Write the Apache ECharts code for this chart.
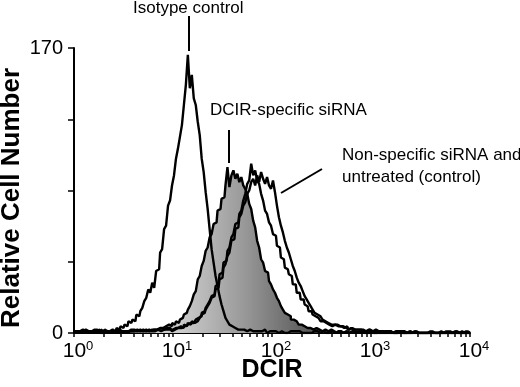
<!DOCTYPE html>
<html><head><meta charset="utf-8">
<script src="https://cdn.jsdelivr.net/npm/echarts@6/dist/echarts.min.js"></script>
<style>html,body{margin:0;padding:0;background:#fff}#c{width:520px;height:387px}</style>
</head><body><div id="c"></div>
<script>
// Histogram counts, one value per channel (50 channels per decade, 10^0 .. 10^4)
const isotype = [
 1,0,1,1,0,2,1,0,1,1,  2,1,1,0,2,1,1,2,1,2,
 2,1,3,2,4,3,5,4,7,6,  8,7,11,10,13,15,19,21,26,24,
 30,27,37,38,48,50,62,64,76,79,  88,94,104,110,117,124,136,148,166,146,
 154,140,136,126,118,104,96,84,74,62,  50,42,34,28,22,17,13,9,7,5,
 4,3,3,2,2,1,2,1,1,2,  1,0,1,1,0,1,2,1,0,1,
 1,0,1,0,1,1,0,1,0,1,  0,1,1,0,1,0,1,0,0,1,
 0,1,0,1,0,0,1,0,1,0,  1,0,0,1,0,1,0,0,1,0,
 0,1,0,0,1,0,0,1,0,0,  1,0,0,0,1,0,0,1,0,0,
 0,1,0,0,0,1,0,0,0,1,  0,0,1,0,0,0,1,0,0,0,
 1,0,0,0,0,1,0,0,0,1,  0,0,0,1,0,0,0,0,1,0,
 0
];
const dcirSpecific = [
 0,1,0,0,1,0,1,0,0,1,  0,1,1,0,1,0,1,1,0,1,
 1,0,1,1,0,1,1,0,1,1,  1,1,0,1,1,2,1,1,2,1,
 2,1,2,3,2,3,4,3,5,4,  6,5,7,6,8,9,11,12,14,16,
 19,23,25,32,34,40,43,49,51,57,  59,65,66,73,74,80,81,88,99,87,
 94,97,92,95,90,93,88,86,83,77,  74,67,63,55,51,44,42,37,36,31,
 29,26,24,21,19,16,14,12,11,10,  8,8,7,6,5,5,4,4,3,3,
 3,2,3,2,2,1,2,2,1,1,  2,1,1,0,1,1,0,1,1,0,
 1,0,1,0,0,1,0,1,0,0,  1,0,0,1,0,0,1,0,0,0,
 1,0,0,0,1,0,0,0,1,0,  0,0,1,0,0,0,0,1,0,0,
 0,1,0,0,0,0,1,0,0,0,  1,0,0,0,0,0,1,0,0,0,
 0
];
const nonSpecific = [
 1,1,0,1,2,1,0,1,1,0,  1,2,1,1,0,1,2,1,1,1,
 0,1,1,2,1,1,0,1,2,1,  1,1,2,1,1,2,1,1,2,1,
 2,1,2,2,1,2,3,2,2,3,  2,3,2,3,3,4,4,5,5,6,
 6,7,8,9,10,12,13,15,17,19,  22,23,28,29,35,36,42,43,49,51,
 57,59,65,66,71,73,79,83,89,91,  101,94,97,91,89,83,79,73,71,66,
 64,59,58,52,51,45,44,39,38,35,  34,29,29,24,24,20,20,17,16,13,
 13,11,10,9,8,7,7,6,5,5,  4,4,5,4,3,4,3,3,4,2,
 3,2,3,2,2,3,2,1,2,2,  1,2,1,1,2,1,1,1,0,1,
 1,0,1,0,1,1,0,1,0,0,  1,0,0,1,0,1,0,0,1,0,
 0,1,0,0,1,0,0,0,1,0,  0,0,1,0,0,0,1,0,0,0,
 0
];
const untreated = [
 0,1,1,0,1,1,2,1,0,1,  1,1,0,2,1,1,1,0,1,2,
 1,1,2,0,1,2,1,1,1,2,  2,1,1,2,1,1,2,2,1,2,
 1,2,2,1,3,2,2,3,3,2,  1,2,3,2,4,3,5,4,6,5,
 7,6,7,8,9,11,12,14,16,18,  21,22,26,27,32,33,39,41,46,48,
 55,56,62,63,69,71,76,78,83,85,  90,92,88,94,90,96,92,89,93,88,
 86,91,84,76,69,64,60,55,51,48,  44,40,37,33,30,28,25,22,20,18,
 16,14,12,11,10,9,8,7,6,6,  5,5,4,5,4,3,4,3,3,2,
 3,3,2,2,3,2,1,2,1,2,  1,1,2,1,1,0,1,1,1,0,
 1,0,1,0,0,1,0,0,1,0,  0,1,0,0,1,0,0,1,0,0,
 1,0,0,0,0,1,0,0,0,1,  0,0,0,1,0,0,0,0,0,1,
 0
];
const channelsPerDecade = 50;

const xTickValues = [1, 10, 100, 1000, 10000];
const xTickExponents = ['0', '1', '2', '3', '4'];
const xMinorTickValues = [2,3,4,5,6,7,8,9, 20,30,40,50,60,70,80,90,
  200,300,400,500,600,700,800,900, 2000,3000,4000,5000,6000,7000,8000,9000];
const yMax = 170;
const yTickStep = 42.5;
const yLabelValues = [0, 170];

const xTitle = 'DCIR';
const yTitle = 'Relative Cell Number';
const labelIsotype = 'Isotype control';
const labelDcir = 'DCIR-specific siRNA';
const labelControl = 'Non-specific siRNA and\nuntreated (control)';

function toPairs(arr) {
  return arr.map((v, i) => [Math.pow(10, i / channelsPerDecade), v]);
}

const FONT = '"Liberation Sans", Arial, Helvetica, sans-serif';
const chart = echarts.init(document.getElementById('c'), null, {renderer: 'canvas'});

const lineCommon = {
  type: 'line', showSymbol: false, symbol: 'none', step: 'middle',
  lineStyle: {color: '#000', width: 2.4}, animation: false, silent: true
};

chart.setOption({
  backgroundColor: '#fff',
  animation: false,
  grid: {left: 74, right: 50, top: 48, bottom: 54, containLabel: false, outerBoundsMode: 'none'},
  xAxis: {
    type: 'log', logBase: 10, min: 1, max: 10000,
    axisLine: {show: true, lineStyle: {color: '#000', width: 2}},
    axisTick: {show: true, inside: false, length: 4, lineStyle: {color: '#000', width: 1.5},
      customValues: xTickValues.concat(xMinorTickValues)},
    minorTick: {show: false},
    splitLine: {show: false},
    axisLabel: {
      customValues: xTickValues,
      margin: 7,
      formatter: function (v) {
        const idx = xTickValues.findIndex(t => Math.abs(t - v) / t < 1e-6);
        return '{b|10}{s|' + (idx >= 0 ? xTickExponents[idx] : '') + '}';
      },
      rich: {
        b: {fontSize: 21, fontFamily: FONT, color: '#000', padding: [0, 0, 0, 8]},
        s: {fontSize: 13, fontFamily: FONT, color: '#000', verticalAlign: 'bottom', padding: [0, 0, 9, 0]}
      }
    },
    name: xTitle, nameLocation: 'middle', nameGap: 25, nameMoveOverlap: false,
    nameTextStyle: {fontSize: 25, fontWeight: 'bold', fontFamily: FONT, color: '#000'}
  },
  yAxis: {
    type: 'value', min: 0, max: yMax, interval: yTickStep,
    axisLine: {show: true, lineStyle: {color: '#000', width: 2}},
    axisTick: {show: true, inside: false, length: 6, lineStyle: {color: '#000', width: 1.5}},
    splitLine: {show: false},
    axisLabel: {
      margin: 11, fontSize: 20, fontFamily: FONT, color: '#000',
      formatter: v => (yLabelValues.indexOf(v) >= 0 ? String(v) : '')
    }
  },
  series: [
    Object.assign({}, lineCommon, {
      name: 'DCIR-specific siRNA', data: toPairs(dcirSpecific), z: 2,
      areaStyle: {
        opacity: 1,
        color: {type: 'linear', x: 180, y: 0, x2: 305, y2: 0, global: true,
          colorStops: [{offset: 0, color: '#cccccc'}, {offset: 0.5, color: '#9a9a9a'}, {offset: 1, color: '#5e5e5e'}]}
      }
    }),
    Object.assign({}, lineCommon, {name: 'Isotype control', data: toPairs(isotype), z: 3}),
    Object.assign({}, lineCommon, {name: 'Non-specific siRNA', data: toPairs(nonSpecific), z: 3}),
    Object.assign({}, lineCommon, {name: 'Untreated', data: toPairs(untreated), z: 3})
  ],
  graphic: [
    {type: 'text', x: 12, y: 198, rotation: Math.PI / 2,
      style: {text: yTitle, font: 'bold 26px ' + FONT, fill: '#000', align: 'center', verticalAlign: 'middle'}},
    {type: 'text', left: 133, top: 0, style: {text: labelIsotype, font: '17px ' + FONT, fill: '#000'}},
    {type: 'line', shape: {x1: 189, y1: 16, x2: 189, y2: 51}, style: {stroke: '#000', lineWidth: 2}},
    {type: 'text', left: 210, top: 102, style: {text: labelDcir, font: '17px ' + FONT, fill: '#000'}},
    {type: 'line', shape: {x1: 229, y1: 130, x2: 229, y2: 163}, style: {stroke: '#000', lineWidth: 2}},
    {type: 'text', left: 342, top: 144, style: {text: labelControl, font: '17px ' + FONT, fill: '#000', lineHeight: 22}},
    {type: 'line', shape: {x1: 281, y1: 193, x2: 322, y2: 169}, style: {stroke: '#000', lineWidth: 2}}
  ]
});
</script></body></html>
